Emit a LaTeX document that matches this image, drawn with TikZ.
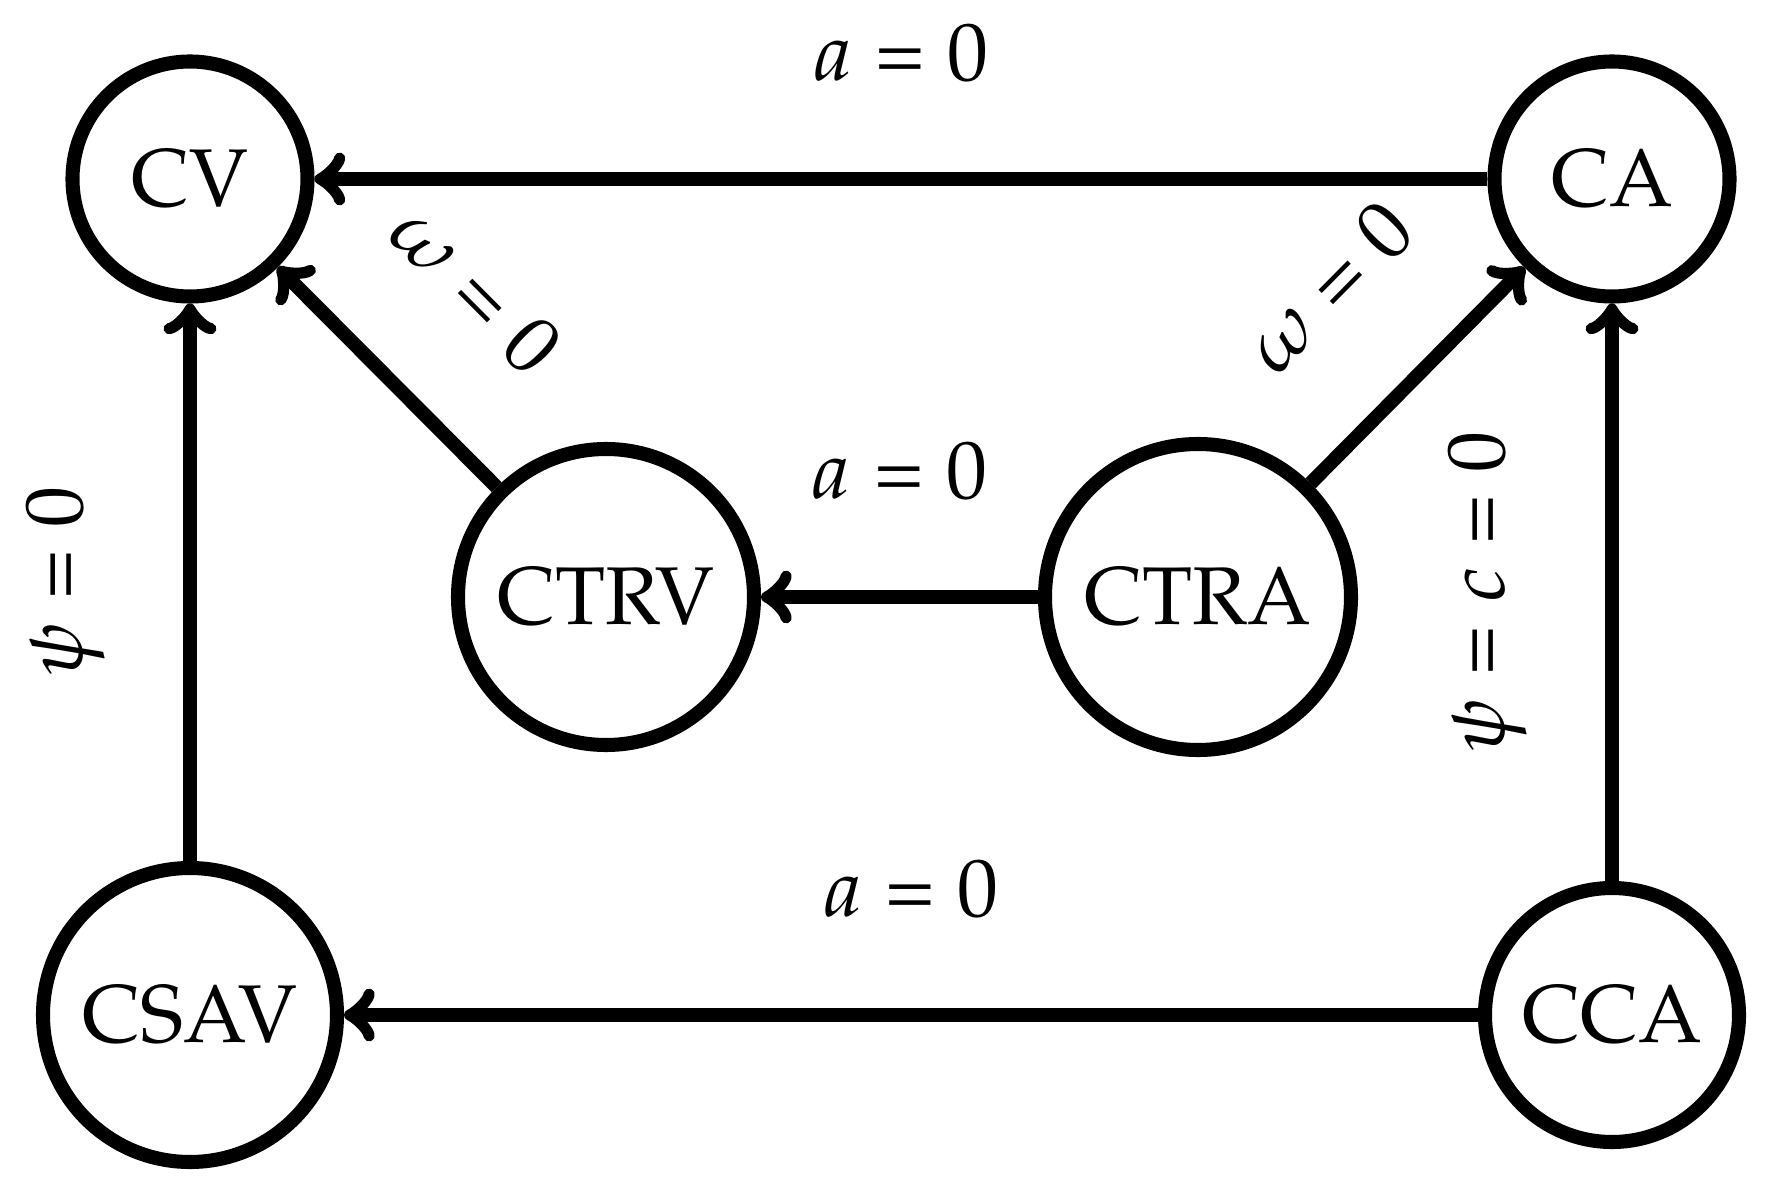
\documentclass[tikz,border=0pt]{standalone}
\usepackage{amsmath}
\usepackage[T1]{fontenc}
\usepackage{mathpazo}
\usepackage{tikz}
\usetikzlibrary{shapes, arrows}
\tikzstyle{model}=[draw, circle, line width=4pt, minimum size=2.35cm]
\tikzstyle{trans}=[->, line width=4pt]
\def\eq{\mathrel{\textup{=}}}

\begin{document}
\begin{tikzpicture}[font=\fontsize{23.3}{28}\selectfont]
		\useasboundingbox (0,0) rectangle (17.77,11.94);
		\node[model] (CV) at (1.9,10.15) {CV};
		\node[model, right of = CV, xshift=13.22cm] (CA) {CA};
		\node[model, below of = CV, yshift=-7.36cm, minimum size=2.94cm] (CSAV) {CSAV};
		\node[model, right of = CSAV, xshift=13.22cm, minimum size=2.54cm] (CCA) {CCA};
		\node[model, minimum size=2.96cm] (CTRV) at (6.06,5.97) {CTRV};
		\node[model, right of = CTRV, xshift=4.92cm, minimum size=3.06cm] (CTRA) {CTRA};
		\draw[trans] (CA) -- node[above=0.78cm]{$a\eq 0$} (CV);
		\draw[trans] (CTRA) -- node[above=0.78cm]{$a\eq 0$} (CTRV);
		\draw[trans] (CCA) -- node[above=0.78cm]{$a\eq 0$} (CSAV);
		\draw[trans] (CSAV) -- node[sloped, above=0.66cm]{$\psi\eq 0$} (CV);
		\draw[trans] (CCA) -- node[sloped, above=0.66cm]{$\psi\eq c\eq 0$} (CA);
		\draw[trans] (CTRV) -- node[sloped, above=0.78cm]{$\omega\eq 0$} (CV);
		\draw[trans] (CTRA) -- node[sloped, above=0.78cm]{$\omega\eq 0$} (CA);
	\end{tikzpicture}
\end{document}
